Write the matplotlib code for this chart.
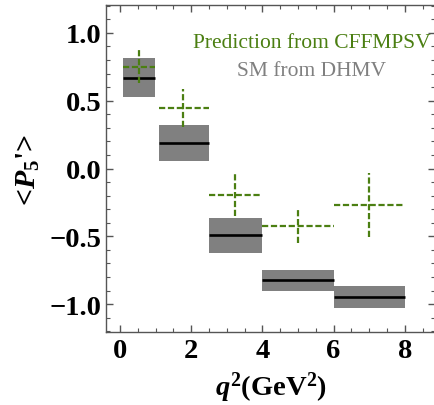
import numpy as np
import matplotlib
matplotlib.use("Agg")
import matplotlib.pyplot as plt
from matplotlib.ticker import MultipleLocator, FuncFormatter

plt.rcParams["font.family"] = ["Liberation Serif", "DejaVu Serif"]
plt.rcParams["mathtext.fontset"] = "custom"
plt.rcParams["mathtext.rm"] = "Liberation Serif:bold"
plt.rcParams["mathtext.it"] = "Liberation Serif:bold:italic"
plt.rcParams["mathtext.bf"] = "Liberation Serif:bold"

# q^2 bins (GeV^2)
bin_lo = [0.1, 1.1, 2.5, 4.0, 6.0]
bin_hi = [0.98, 2.5, 4.0, 6.0, 8.0]

# SM from DHMV: central value and band
sm_central = [0.67, 0.19, -0.49, -0.82, -0.945]
sm_low = [0.53, 0.055, -0.625, -0.905, -1.025]
sm_high = [0.815, 0.32, -0.365, -0.745, -0.865]

# Prediction from CFFMPSV
pred_x = [0.54, 1.78, 3.24, 5.0, 7.0]
pred_central = [0.75, 0.445, -0.195, -0.427, -0.272]
pred_err = [0.12, 0.14, 0.156, 0.122, 0.236]

GREEN = "#4b7f12"
GRAY = "#808080"

fig = plt.figure(figsize=(4.35, 4.06), dpi=100)
ax = fig.add_axes([0.2437, 0.1798, 0.7563, 0.8054])

lo = np.array(bin_lo)
hi = np.array(bin_hi)
sl = np.array(sm_low)
sh = np.array(sm_high)

ax.bar(lo, sh - sl, width=hi - lo, bottom=sl, align="edge",
       color=GRAY, edgecolor="none", zorder=1)
ax.hlines(sm_central, lo, hi, color="black", linewidth=1.9, zorder=2)

px = np.array(pred_x)
eb = ax.errorbar(px, pred_central, xerr=[px - lo, hi - px], yerr=pred_err,
                 fmt="none", ecolor=GREEN, elinewidth=1.6, capsize=0, zorder=3)
for lc in eb[2]:
    lc.set_linestyle((0, (2.8, 1.2)))

ax.set_xlim(-0.39, 8.85)
ax.set_ylim(-1.205, 1.205)
ax.xaxis.set_major_locator(MultipleLocator(2))
ax.xaxis.set_minor_locator(MultipleLocator(0.5))
ax.yaxis.set_major_locator(MultipleLocator(0.5))
ax.yaxis.set_minor_locator(MultipleLocator(0.1))
ax.yaxis.set_major_formatter(FuncFormatter(
    lambda v, _: f"{v:.1f}".replace("-", "\u2212")))
ax.tick_params(which="both", direction="in", top=True, right=True,
               color="#555555")
ax.tick_params(which="major", length=5, width=1)
ax.tick_params(which="minor", length=3, width=0.8)
ax.tick_params(axis="both", labelsize=20.5)
ax.tick_params(axis="y", pad=3)
ax.tick_params(axis="x", pad=4)
for lab in ax.get_xticklabels() + ax.get_yticklabels():
    lab.set_fontweight("bold")
for sp in ax.spines.values():
    sp.set_color("#555555")
    sp.set_linewidth(1.0)

ax.set_xlabel(r"$q^{2}$(GeV$^{2}$)", fontsize=20.5, fontweight="bold", labelpad=5)
ax.set_ylabel(r"<$P_{5}$'>", fontsize=21.5, fontweight="bold", labelpad=6)

ax.text(0.625, 0.884, "Prediction from CFFMPSV", color=GREEN, fontsize=15.5,
        ha="center", va="center", transform=ax.transAxes)
ax.text(0.625, 0.799, "SM from DHMV", color=GRAY, fontsize=15.5,
        ha="center", va="center", transform=ax.transAxes)

fig.savefig("out.png", dpi=100)
